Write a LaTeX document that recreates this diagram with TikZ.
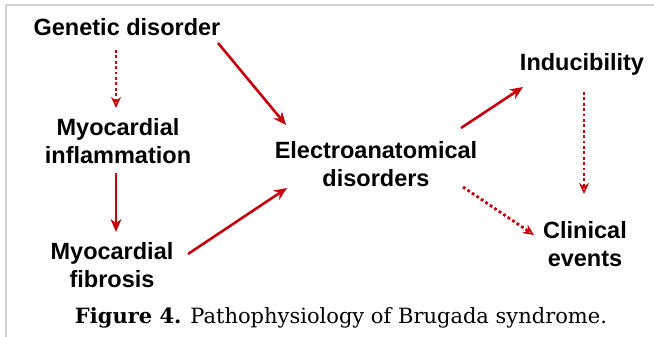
\documentclass[tikz,border=0pt]{standalone}
\usepackage{fontspec}
\setmainfont{Liberation Sans}
\newfontfamily\capfont{DejaVu Serif}
\usetikzlibrary{arrows.meta,calc}
\definecolor{arrred}{RGB}{200,0,10}
\definecolor{framegray}{RGB}{210,210,210}
\begin{document}
\begin{tikzpicture}[x=1pt,y=-1pt,
  lbl/.style={inner sep=0pt,align=center,font=\fontsize{23.5}{28}\selectfont\bfseries},
  solidarr/.style={draw=arrred,line width=2.6pt,-{Stealth[length=13pt,width=11pt]}},
  dotarr/.style={draw=arrred,line width=2.8pt,dash pattern=on 2.8pt off 2.6pt,
     -{Stealth[open,length=11pt,width=10pt,line width=1.6pt]}}]
\useasboundingbox (0,0) rectangle (654,337);
\draw[framegray,line width=1.5pt] (6,337) -- (6,5) -- (654,5);
\node[lbl] (gen) at (127,27) {Genetic disorder};
\node[lbl] (infl) at (118,141) {Myocardial\\inflammation};
\node[lbl] (fib) at (112,265) {Myocardial\\fibrosis};
\node[lbl] (elec) at (376,164) {Electroanatomical\\disorders};
\node[lbl] (ind) at (582,64) {Inducibility};
\node[lbl] (clin) at (585,244) {Clinical\\events};
\node[inner sep=0pt,font=\capfont\fontsize{21}{25}\selectfont] (cap) at (341,318)
  {\textbf{Figure 4.} Pathophysiology of Brugada syndrome.};
\draw[dotarr] ($(gen)+(-11,23)$) -- ($(infl)+(-2,-33)$);
\draw[solidarr] ($(gen)+(91,16)$) -- ($(elec)+(-90,-39)$);
\draw[solidarr] ($(infl)+(-2,32)$) -- ($(fib)+(4,-33)$);
\draw[solidarr] ($(fib)+(76,-11)$) -- ($(elec)+(-89,24)$);
\draw[solidarr] ($(elec)+(85,-36)$) -- ($(ind)+(-59,23)$);
\draw[dotarr] ($(ind)+(2,28)$) -- ($(clin)+(-1,-50)$);
\draw[dotarr] ($(elec)+(87,23)$) -- ($(clin)+(-51,-9)$);
\end{tikzpicture}
\end{document}
